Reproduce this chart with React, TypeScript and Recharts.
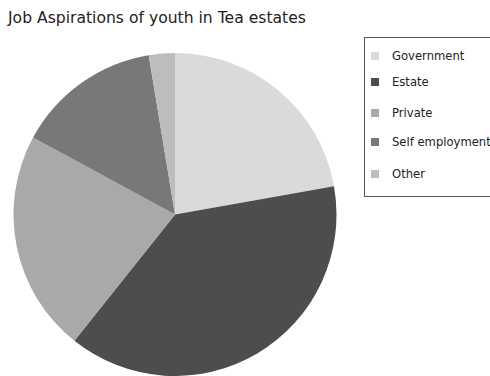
import { PieChart, Pie, Cell } from 'recharts';

const categories = ['Government', 'Estate', 'Private', 'Self employment', 'Other'];
const shares = [22.2, 38.5, 22.2, 14.5, 2.6];
const colors = ['#d9dadb', '#4d4d4d', '#a7a9ab', '#77787a', '#bbbdbf'];

const title = 'Job Aspirations of youth in Tea estates';

// row centres inside the legend box (the original spacing is uneven)
const rowY = [17.5, 43.5, 74.5, 104, 135.5];

const data = categories.map((name, i) => ({ name, value: shares[i] }));

const font = '"DejaVu Sans", Verdana, sans-serif';

function LegendBox() {
  return (
    <div
      style={{
        position: 'absolute',
        left: 364,
        top: 37,
        width: 150,
        height: 158,
        border: '1px solid #555',
        background: '#fff',
        fontFamily: font,
        fontSize: 11.6,
        color: '#222',
      }}
    >
      {categories.map((c, i) => (
        <div key={c} style={{ position: 'absolute', left: 6, top: rowY[i] - 8, height: 16, display: 'flex', alignItems: 'center', whiteSpace: 'nowrap' }}>
          <span style={{ display: 'inline-block', width: 8, height: 8, background: colors[i], marginRight: 13 }} />
          <span>{c}</span>
        </div>
      ))}
    </div>
  );
}

export default function App() {
  return (
    <div style={{ position: 'fixed', left: 0, top: 0, width: 490, height: 376, overflow: 'hidden', background: '#fff' }}>
      <style>{'html,body{margin:0;overflow:hidden}'}</style>
      <div style={{ position: 'absolute', left: 8, top: 9, fontFamily: font, fontSize: 15.6, color: '#222', whiteSpace: 'nowrap' }}>{title}</div>
      <PieChart width={490} height={376} margin={{ top: 0, right: 0, bottom: 0, left: 0 }}>
        <Pie
          data={data}
          dataKey="value"
          nameKey="name"
          cx={175}
          cy={214.5}
          outerRadius={161.5}
          startAngle={90}
          endAngle={-270}
          stroke="none"
          isAnimationActive={false}
        >
          {data.map((d, i) => (
            <Cell key={d.name} fill={colors[i]} />
          ))}
        </Pie>
      </PieChart>
      <LegendBox />
    </div>
  );
}
